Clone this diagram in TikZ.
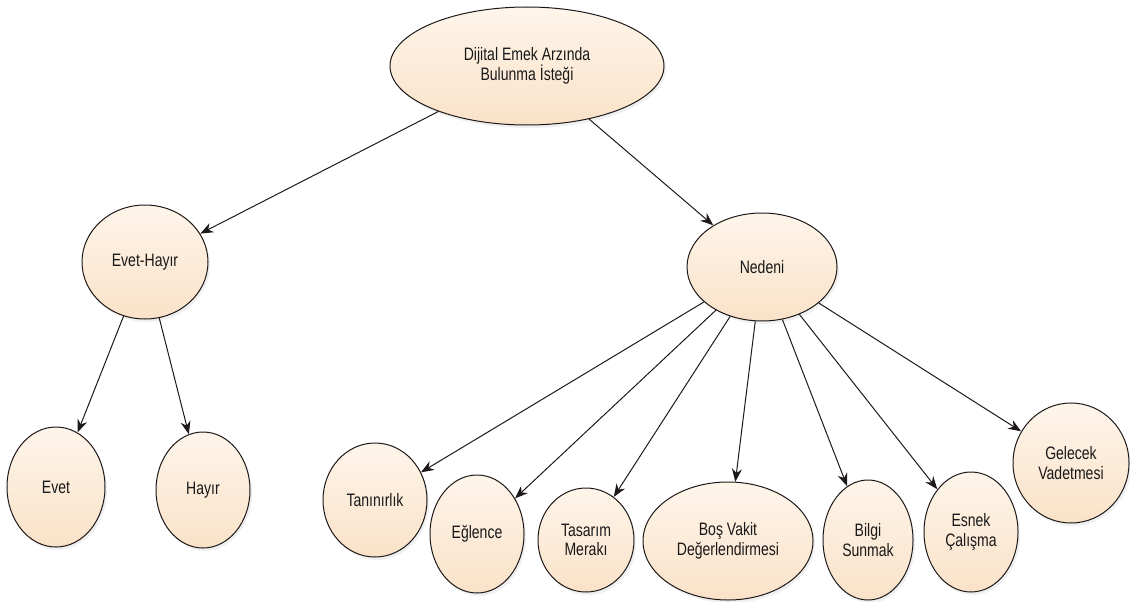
\documentclass[tikz,border=0pt]{standalone}
\usepackage{fontspec}
\setmainfont[FakeStretch=0.78]{Liberation Sans}
\usetikzlibrary{shapes.geometric,arrows.meta,shadows}
\definecolor{balust}{RGB}{254,245,234}
\definecolor{balalt}{RGB}{250,226,200}
\definecolor{kenar}{RGB}{30,25,25}
\begin{document}
\begin{tikzpicture}[x=1pt,y=-1pt,
  balon/.style={ellipse, draw=kenar, line width=1pt, top color=balust, bottom color=balalt,
    inner sep=0pt, align=center, text=black!90, font=\fontsize{18}{19.5}\selectfont,
    drop shadow={shadow xshift=2pt, shadow yshift=-3pt, opacity=0.12}},
  ok/.style={-{Stealth[length=13pt,width=10pt]}, line width=1pt, draw=kenar}]
\useasboundingbox (0,0) rectangle (1130,602);
\node[balon, minimum width=274pt, minimum height=118pt] (dug0) at (527,66){Dijital Emek Arzında\\Bulunma İsteği};
\node[balon, minimum width=126pt, minimum height=114pt] (dug1) at (145,262){Evet-Hayır};
\node[balon, minimum width=98pt, minimum height=120pt] (dug3) at (56,487){Evet};
\node[balon, minimum width=94pt, minimum height=116pt] (dug4) at (203,490){Hayır};
\draw[ok](dug1) -- (dug3);
\draw[ok](dug1) -- (dug4);
\node[balon, minimum width=150pt, minimum height=108pt] (dug2) at (762,267){Nedeni};
\node[balon, minimum width=104pt, minimum height=114pt] (dug5) at (375,500){Tanınırlık};
\node[balon, minimum width=94pt, minimum height=118pt] (dug6) at (477,534){Eğlence};
\node[balon, minimum width=96pt, minimum height=104pt] (dug7) at (586,540){Tasarım\\Merakı};
\node[balon, minimum width=170pt, minimum height=118pt] (dug8) at (728,541){Boş Vakit\\Değerlendirmesi};
\node[balon, minimum width=90pt, minimum height=120pt] (dug9) at (868,540){Bilgi\\Sunmak};
\node[balon, minimum width=94pt, minimum height=120pt] (dug10) at (971,532){Esnek\\Çalışma};
\node[balon, minimum width=116pt, minimum height=120pt] (dug11) at (1071,463){Gelecek\\Vadetmesi};
\draw[ok](dug2) -- (dug5);
\draw[ok](dug2) -- (dug6);
\draw[ok](dug2) -- (dug7);
\draw[ok](dug2) -- (dug8);
\draw[ok](dug2) -- (dug9);
\draw[ok](dug2) -- (dug10);
\draw[ok](dug2) -- (dug11);
\draw[ok](dug0) -- (dug1);
\draw[ok](dug0) -- (dug2);
\end{tikzpicture}
\end{document}
